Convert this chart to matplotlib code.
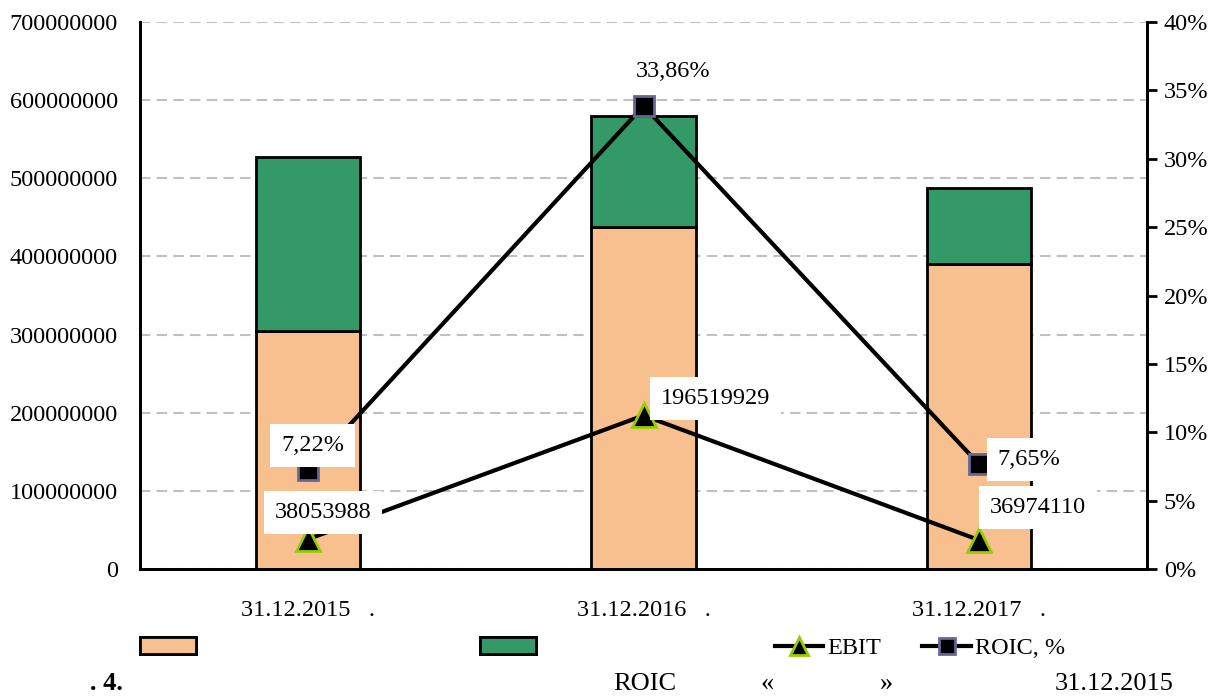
import matplotlib.pyplot as plt
import numpy as np
from matplotlib.lines import Line2D
from matplotlib.patches import Patch
from matplotlib.ticker import FuncFormatter

plt.rcParams["font.family"] = ["Liberation Serif", "DejaVu Serif"]
plt.rcParams["font.size"] = 17.5

dates = ["31.12.2015   .", "31.12.2016   .", "31.12.2017   ."]
lower_part = [305e6, 438e6, 390e6]
upper_part = [222e6, 142e6, 98e6]
ebit = [38053988, 196519929, 36974110]
roic = [7.22, 33.86, 7.65]

ebit_labels = ["38053988", "196519929", "36974110"]
roic_labels = ["7,22%", "33,86%", "7,65%"]

ORANGE = "#F9C08F"
GREEN = "#339966"
EBIT_EDGE = "#99CC00"
ROIC_EDGE = "#666699"

fig = plt.figure(figsize=(12.19, 6.98), dpi=100)
ax = fig.add_axes([140 / 1219, 1 - 569 / 698, 1007 / 1219, 547 / 698])
ax2 = ax.twinx()

x = np.arange(len(dates))
width = 0.31
ax.bar(x, lower_part, width, color=ORANGE, edgecolor="black", linewidth=2, zorder=2)
ax.bar(x, upper_part, width, bottom=lower_part, color=GREEN, edgecolor="black",
       linewidth=2, zorder=2)

ax.plot(x, ebit, color="black", linewidth=3, marker="^", markersize=17,
        markerfacecolor="black", markeredgecolor=EBIT_EDGE, markeredgewidth=2, zorder=3)
ax2.plot(x, roic, color="black", linewidth=3, marker="s", markersize=14,
         markerfacecolor="black", markeredgecolor=ROIC_EDGE, markeredgewidth=2, zorder=3)

ax.set_xlim(-0.5, 2.5)
ax.set_ylim(0, 700e6)
ax.set_yticks(np.arange(0, 700e6 + 1, 100e6))
ax.yaxis.set_major_formatter(FuncFormatter(lambda v, _: f"{v:.0f}"))
ax.set_xticks(x, dates)
ax.tick_params(axis="x", length=0, pad=22)
ax.tick_params(axis="y", length=0, pad=16)
ax.grid(axis="y", color="#C0C0C0", linestyle=(0, (5, 3)), linewidth=1.5, zorder=0)
ax.set_axisbelow(True)

ax2.set_ylim(0, 40)
ax2.set_yticks(np.arange(0, 41, 5))
ax2.yaxis.set_major_formatter(FuncFormatter(lambda v, _: f"{v:.0f}%"))
ax2.tick_params(axis="y", length=7, width=2, pad=5)

for axis in (ax, ax2):
    axis.spines["top"].set_visible(False)
    for side in ("left", "right", "bottom"):
        axis.spines[side].set_linewidth(2)

box = dict(boxstyle="square,pad=0.45", facecolor="white", edgecolor="none")
roic_offsets = [(5, 25), (30, 34), (50, 5)]
ebit_offsets = [(15, 27), (72, 17), (59, 33)]
for i in range(len(dates)):
    ax2.annotate(roic_labels[i], (x[i], roic[i]), xytext=roic_offsets[i],
                 textcoords="offset pixels", ha="center", va="center",
                 bbox=box if i != 1 else None, zorder=5)
    ax2.annotate(ebit_labels[i], (x[i], ebit[i]), xycoords=ax.transData,
                 xytext=ebit_offsets[i], textcoords="offset pixels",
                 ha="center", va="center", bbox=box, zorder=5)

# legend: the two bar series, then the two line series
bar_handles = [
    Patch(facecolor=ORANGE, edgecolor="black", linewidth=2),
    Patch(facecolor=GREEN, edgecolor="black", linewidth=2),
]
leg1 = fig.legend(bar_handles, ["", ""], ncol=2, frameon=False,
                  loc="center left", bbox_to_anchor=(118 / 1219, 1 - 648 / 698),
                  handlelength=2.3, handletextpad=0, columnspacing=11.7)
line_handles = [
    Line2D([], [], color="black", linewidth=3, marker="^", markersize=13,
           markerfacecolor="black", markeredgecolor=EBIT_EDGE, markeredgewidth=2),
    Line2D([], [], color="black", linewidth=3, marker="s", markersize=11,
           markerfacecolor="black", markeredgecolor=ROIC_EDGE, markeredgewidth=2),
]
fig.legend(line_handles, ["EBIT", "ROIC, %"], ncol=2, frameon=False,
           loc="center left", bbox_to_anchor=(753 / 1219, 1 - 648 / 698),
           handlelength=2.0, handletextpad=0.15, columnspacing=1.7)
fig.add_artist(leg1)

caption_y = 1 - 684 / 698
fig.text(90 / 1219, caption_y, ". 4.", fontweight="bold", va="center", fontsize=19)
fig.text(613 / 1219, caption_y, "ROIC", va="center", fontsize=19)
fig.text(760 / 1219, caption_y, "«", va="center", fontsize=19)
fig.text(880 / 1219, caption_y, "»", va="center", fontsize=19)
fig.text(1055 / 1219, caption_y, "31.12.2015", va="center", fontsize=19)

fig.savefig("out.png", dpi=100)
